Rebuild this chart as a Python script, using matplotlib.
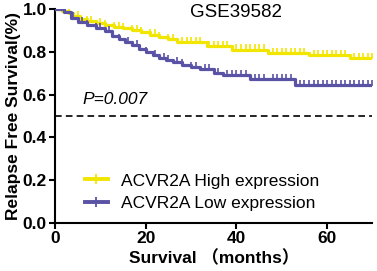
import matplotlib
matplotlib.use("Agg")
import matplotlib.pyplot as plt
import numpy as np

plt.rcParams['font.family'] = ['Liberation Sans', 'Noto Sans CJK SC', 'DejaVu Sans']

# step curves (time in months, survival fraction)
high_t = [0, 1.5, 3, 4, 5.5, 7, 9, 11, 13, 15, 17, 19, 21, 23, 25, 27, 33.5, 39, 47, 56, 65]
high_s = [1.0, 0.99, 0.98, 0.965, 0.955, 0.945, 0.935, 0.925, 0.915, 0.91, 0.90, 0.89, 0.88,
          0.87, 0.86, 0.845, 0.825, 0.81, 0.795, 0.785, 0.772]
low_t = [0, 2, 3.5, 5, 7, 9, 11, 12.5, 14, 15.5, 17, 18.5, 20, 21.5, 23, 24.5, 26, 28, 30, 32,
         35, 37, 43, 53]
low_s = [1.0, 0.985, 0.96, 0.94, 0.925, 0.91, 0.895, 0.875, 0.86, 0.845, 0.83, 0.815, 0.80,
         0.785, 0.77, 0.76, 0.75, 0.74, 0.73, 0.72, 0.70, 0.69, 0.672, 0.645]

high_cens = [1, 3, 5, 7, 8, 10, 11, 13, 14, 15, 17, 18, 19, 21, 22, 23, 25, 26, 28, 29, 30, 31, 32,
             34, 35, 36, 37, 38, 40, 41, 42, 43, 44, 45, 46, 48, 49, 50, 51, 52, 53, 54, 55,
             57, 58, 59, 60, 61, 62, 63, 64, 66, 67, 68, 69, 70]
low_cens = [1, 2, 4, 6, 7, 9, 10, 12, 14, 16, 18, 20, 22, 24, 25, 27, 28, 30, 31, 33, 34, 36,
            38, 39, 40, 41, 42, 44, 45, 46, 48, 49, 50, 51, 52, 54, 55, 56, 57, 58, 59, 60,
            61, 62, 63, 64, 65, 66, 67, 68, 69, 70]

p_text = "P=0.007"
labels = ["ACVR2A High expression", "ACVR2A Low expression"]
colors = ["#f2e600", "#5a52a4"]


def step_val(times, surv, x):
    idx = np.searchsorted(times, x, side='right') - 1
    return np.array(surv)[idx]


fig = plt.figure(figsize=(3.77, 2.71), dpi=100)
ax = fig.add_axes([0.146, 0.177, 0.842, 0.79])

handles = []
for t, s, c, col, lab in [(high_t, high_s, high_cens, colors[0], labels[0]),
                          (low_t, low_s, low_cens, colors[1], labels[1])]:
    tt = list(t) + [70]
    ss = list(s) + [s[-1]]
    ax.step(tt, ss, where='post', color=col, lw=2.3, zorder=3)
    cy = step_val(t, s, np.array(c)) + 0.01
    ax.plot(c, cy, ls='none', marker='|', ms=4, mew=1.2, color=col, zorder=3)
    h, = ax.plot([], [], color=col, lw=2.8, marker='|', ms=7, mew=1.3)
    handles.append(h)

ax.axhline(0.5, color='black', ls=(0, (4, 2.5)), lw=1.2)
ax.text(6, 0.575, p_text, style='italic', fontsize=12.5, va='center', ha='left')

ax.set_xlim(0, 70)
ax.set_ylim(0, 1.0)
ax.set_xticks([0, 20, 40, 60])
ax.set_yticks([0.0, 0.2, 0.4, 0.6, 0.8, 1.0])
ax.set_yticklabels(["0.0", "0.2", "0.4", "0.6", "0.8", "1.0"])
for sp in ['top', 'right']:
    ax.spines[sp].set_visible(False)
for sp in ['left', 'bottom']:
    ax.spines[sp].set_linewidth(1.5)
ax.tick_params(width=1.5, length=4, labelsize=12.5, pad=2)
for lab in ax.get_xticklabels() + ax.get_yticklabels():
    lab.set_fontweight('bold')

ax.set_xlabel("Survival （months）", fontsize=12.5, fontweight='bold', labelpad=2)
ax.set_ylabel("Relapse Free Survival(%)", fontsize=12.5, fontweight='bold', labelpad=1)
fig.text(0.625, 0.955, "GSE39582", fontsize=13.5, ha='center', va='center')

ax.legend(handles, labels, loc='lower left', bbox_to_anchor=(0.045, -0.015), frameon=False,
          fontsize=12.5, handlelength=1.3, handletextpad=0.75, labelspacing=0.4)

fig.savefig("out.png", dpi=100)
